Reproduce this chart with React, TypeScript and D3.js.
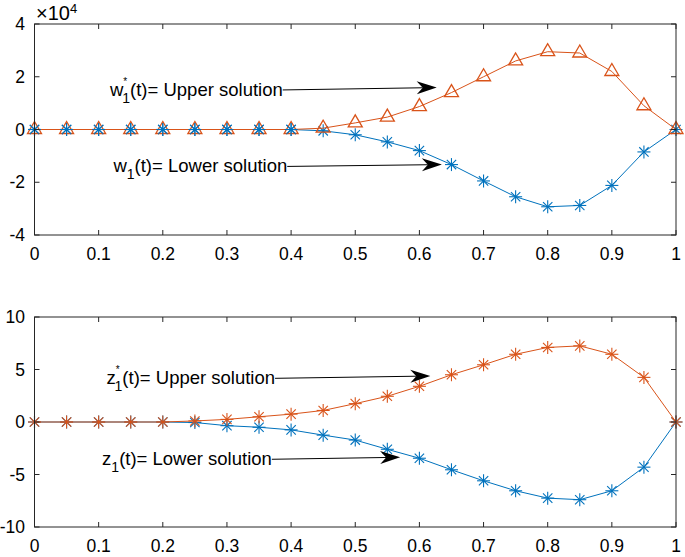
import * as React from 'react';
import * as d3 from 'd3';

// time grid
const tValues = [0, 0.05, 0.1, 0.15, 0.2, 0.25, 0.3, 0.35, 0.4, 0.45, 0.5, 0.55, 0.6, 0.65, 0.7, 0.75, 0.8, 0.85, 0.9, 0.95, 1];

// top panel, units of 1e4
const wUpper = [0, 0, 0, 0, 0, 0, 0, 0, 0, 0.05, 0.25, 0.47, 0.87, 1.4, 2.0, 2.6, 2.95, 2.9, 2.2, 0.9, 0];
const wLower = [0, 0, 0, 0, 0, 0, 0, 0, 0, -0.05, -0.2, -0.47, -0.8, -1.33, -1.95, -2.55, -2.93, -2.88, -2.12, -0.85, 0];

// bottom panel
const zUpper = [0, 0, 0, 0, 0, 0.1, 0.25, 0.5, 0.75, 1.1, 1.75, 2.45, 3.4, 4.5, 5.45, 6.45, 7.1, 7.25, 6.45, 4.25, 0];
const zLower = [0, 0, 0, 0, 0, -0.05, -0.35, -0.5, -0.75, -1.25, -1.72, -2.6, -3.45, -4.55, -5.6, -6.55, -7.25, -7.4, -6.55, -4.3, 0];

const xTicks = [0, 0.1, 0.2, 0.3, 0.4, 0.5, 0.6, 0.7, 0.8, 0.9, 1];
const wTicks = [-4, -2, 0, 2, 4];
const zTicks = [-10, -5, 0, 5, 10];

const BLUE = '#0072BD';
const ORANGE = '#D95319';
const FONT = '"Liberation Sans", Arial, Helvetica, sans-serif';

type Arrow = { x0: number; y0: number; x1: number; y1: number; base: string; sup: boolean };

const wArrows: Arrow[] = [
  { x0: 0.387, y0: 1.5, x1: 0.627, y1: 1.59, base: 'w', sup: true },
  { x0: 0.394, y0: -1.4, x1: 0.635, y1: -1.33, base: 'w', sup: false },
];
const zArrows: Arrow[] = [
  { x0: 0.375, y0: 4.16, x1: 0.617, y1: 4.38, base: 'z', sup: true },
  { x0: 0.37, y0: -3.55, x1: 0.57, y1: -3.36, base: 'z', sup: false },
];

const left = 34.5;
const right = 676;
const tickLen = 5;

function Triangle({ x, y, color }: { x: number; y: number; color: string }) {
  const h = 12, hw = 7;
  const pts = `${x},${y - (2 * h) / 3} ${x - hw},${y + h / 3} ${x + hw},${y + h / 3}`;
  return <polygon points={pts} fill="none" stroke={color} strokeWidth={1.3} />;
}

function Asterisk({ x, y, color }: { x: number; y: number; color: string }) {
  const r = 6.5, d = r * 0.72;
  return (
    <g stroke={color} strokeWidth={1.1}>
      <line x1={x - r} y1={y} x2={x + r} y2={y} />
      <line x1={x} y1={y - r} x2={x} y2={y + r} />
      <line x1={x - d} y1={y - d} x2={x + d} y2={y + d} />
      <line x1={x - d} y1={y + d} x2={x + d} y2={y - d} />
    </g>
  );
}

function ArrowNote({ a, xs, ys }: { a: Arrow; xs: d3.ScaleLinear<number, number>; ys: d3.ScaleLinear<number, number> }) {
  const x0 = xs(a.x0), y0 = ys(a.y0), x1 = xs(a.x1), y1 = ys(a.y1);
  const ang = Math.atan2(y1 - y0, x1 - x0);
  const L = 20, W = 6.5, N = 14;
  const rot = (dx: number, dy: number) =>
    [x1 + dx * Math.cos(ang) - dy * Math.sin(ang), y1 + dx * Math.sin(ang) + dy * Math.cos(ang)];
  const p1 = rot(-L, -W), p2 = rot(-N, 0), p3 = rot(-L, W);
  const lineEnd = rot(-N, 0);
  return (
    <g>
      <line x1={x0} y1={y0} x2={lineEnd[0]} y2={lineEnd[1]} stroke="#000" strokeWidth={1} />
      <polygon points={`${x1},${y1} ${p1[0]},${p1[1]} ${p2[0]},${p2[1]} ${p3[0]},${p3[1]}`} fill="#000" />
      <text x={x0} y={y0 + 6} textAnchor="end" fontSize={18.5} fontFamily={FONT} fill="#000">
        <tspan>{a.base}</tspan>
        {a.sup ? (
          <>
            <tspan fontSize={10} dy={-11}>*</tspan>
            <tspan fontSize={14} dx={-5} dy={18}>1</tspan>
          </>
        ) : (
          <tspan fontSize={14} dy={7}>1</tspan>
        )}
        <tspan dy={-7}>(t)= {a.sup ? 'Upper' : 'Lower'} solution</tspan>
      </text>
    </g>
  );
}

function Panel({
  top, bottom, domain, yTicks, upper, lower, upperMarker, arrows, exponent,
}: {
  top: number; bottom: number; domain: [number, number]; yTicks: number[];
  upper: number[]; lower: number[]; upperMarker: 'tri' | 'ast'; arrows: Arrow[]; exponent?: boolean;
}) {
  const xs = d3.scaleLinear().domain([0, 1]).range([left, right]);
  const ys = d3.scaleLinear().domain(domain).range([bottom, top]);
  const line = d3.line<number>().x((_, i) => xs(tValues[i])).y(d => ys(d));
  return (
    <g>
      {/* series */}
      <path d={line(lower) || ''} fill="none" stroke={BLUE} strokeWidth={1} />
      {lower.map((v, i) => <Asterisk key={'l' + i} x={xs(tValues[i])} y={ys(v)} color={BLUE} />)}
      <path d={line(upper) || ''} fill="none" stroke={ORANGE} strokeWidth={1} />
      {upper.map((v, i) =>
        upperMarker === 'tri'
          ? <Triangle key={'u' + i} x={xs(tValues[i])} y={ys(v)} color={ORANGE} />
          : <Asterisk key={'u' + i} x={xs(tValues[i])} y={ys(v)} color={ORANGE} />
      )}
      {upperMarker === 'tri' && lower.map((v, i) =>
        i < 9 ? <Asterisk key={'l2' + i} x={xs(tValues[i])} y={ys(v)} color={BLUE} /> : null
      )}

      {/* box and ticks */}
      <rect x={left} y={top} width={right - left} height={bottom - top} fill="none" stroke="#262626" strokeWidth={1} />
      {xTicks.map(t => (
        <g key={'x' + t}>
          <line x1={xs(t)} x2={xs(t)} y1={bottom} y2={bottom - tickLen} stroke="#262626" />
          <line x1={xs(t)} x2={xs(t)} y1={top} y2={top + tickLen} stroke="#262626" />
          <text x={xs(t)} y={bottom + 25} textAnchor="middle" fontSize={17.5} fontFamily={FONT} fill="#000">{t}</text>
        </g>
      ))}
      {yTicks.map(t => (
        <g key={'y' + t}>
          <line x1={left} x2={left + tickLen} y1={ys(t)} y2={ys(t)} stroke="#262626" />
          <line x1={right} x2={right - tickLen} y1={ys(t)} y2={ys(t)} stroke="#262626" />
          <text x={25} y={ys(t) + 6} textAnchor="end" fontSize={17.5} fontFamily={FONT} fill="#000">{t}</text>
        </g>
      ))}
      {exponent && (
        <text x={36} y={top - 4} fontSize={20} fontFamily={FONT} fill="#000">
          <tspan fontWeight={300}>×</tspan>10<tspan fontSize={13} dy={-7}>4</tspan>
        </text>
      )}
      {arrows.map((a, i) => <ArrowNote key={i} a={a} xs={xs} ys={ys} />)}
    </g>
  );
}

export default function App() {
  return (
    <svg width={685} height={557} style={{ position: 'absolute', left: 0, top: 0, background: '#fff' }}>
      <Panel top={24} bottom={235} domain={[-4, 4]} yTicks={wTicks} upper={wUpper} lower={wLower}
        upperMarker="tri" arrows={wArrows} exponent />
      <Panel top={317} bottom={527} domain={[-10, 10]} yTicks={zTicks} upper={zUpper} lower={zLower}
        upperMarker="ast" arrows={zArrows} />
    </svg>
  );
}
